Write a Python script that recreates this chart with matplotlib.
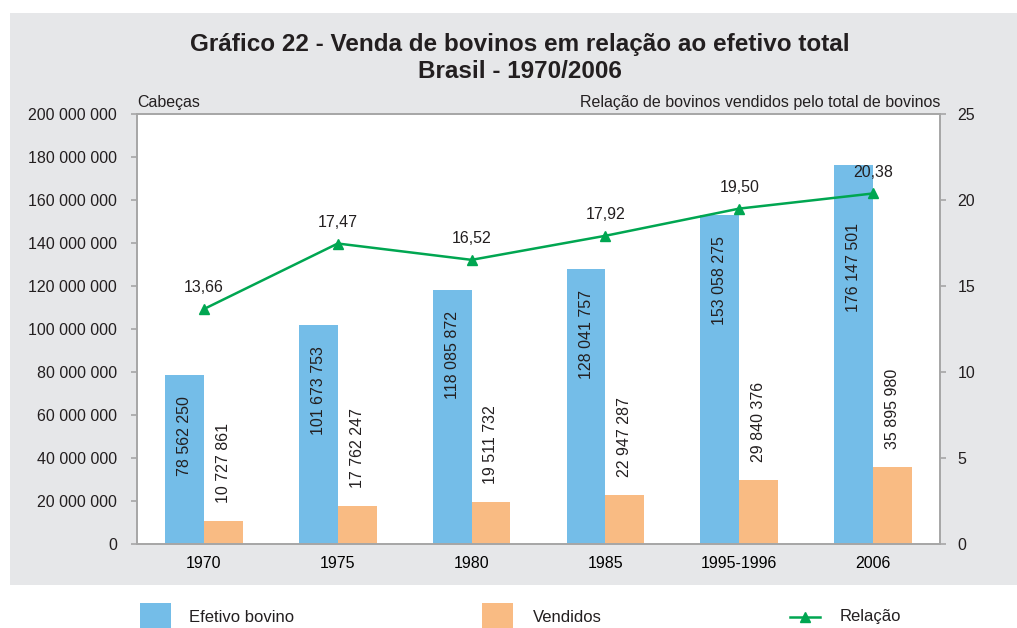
import matplotlib
matplotlib.use('Agg')
import matplotlib.pyplot as plt
import numpy as np
from matplotlib.patches import Rectangle
from matplotlib.lines import Line2D

# dados do grafico
anos = ['1970', '1975', '1980', '1985', '1995-1996', '2006']
efetivo = [78562250, 101673753, 118085872, 128041757, 153058275, 176147501]
vendidos = [10727861, 17762247, 19511732, 22947287, 29840376, 35895980]
relacao = [13.66, 17.47, 16.52, 17.92, 19.50, 20.38]

azul = '#74bde8'
laranja = '#f9bb83'
verde = '#00a651'
cinza = '#e6e7e9'
eixo = '#a6a6a6'

narrow = ['Liberation Sans Narrow', 'Liberation Sans', 'DejaVu Sans']
plt.rcParams['font.family'] = ['Liberation Sans', 'DejaVu Sans']
plt.rcParams['text.color'] = '#231f20'

YMAX = 200000000
RMAX = 25


def milhar(v):
    return f'{int(v):,}'.replace(',', ' ')


fig = plt.figure(figsize=(10.17, 6.28), dpi=100)
fig.patches.append(Rectangle((10 / 1017, 1 - 585 / 628), 1, (585 - 13) / 628,
                             transform=fig.transFigure, facecolor=cinza,
                             edgecolor='none', zorder=0))

ax = fig.add_axes([137 / 1017, 1 - 544 / 628, 803 / 1017, 430 / 628])
ax2 = ax.twinx()

x = np.arange(len(anos))
w = 0.29
ax.bar(x - w / 2, efetivo, w, color=azul, zorder=2)
ax.bar(x + w / 2, vendidos, w, color=laranja, zorder=2)

for xi, v, r in zip(x, efetivo, relacao):
    r_esc = r / RMAX * YMAX
    if r_esc < v:
        # linha passa por cima da barra: rotulo desce abaixo do ponto
        ax.annotate(milhar(v), (xi - w / 2, r_esc), xytext=(0, -21.5), textcoords='offset points',
                    rotation=90, ha='center', va='top', fontsize=11.5)
    else:
        ax.annotate(milhar(v), (xi - w / 2, v), xytext=(0, -15), textcoords='offset points',
                    rotation=90, ha='center', va='top', fontsize=11.5)
for xi, v in zip(x, vendidos):
    ax.annotate(milhar(v), (xi + w / 2, v), xytext=(0, 13), textcoords='offset points',
                rotation=90, ha='center', va='bottom', fontsize=11.5)

ax2.plot(x, relacao, color=verde, lw=1.8, marker='^', ms=7, zorder=3)
for xi, v in zip(x, relacao):
    ax2.annotate(f'{v:.2f}'.replace('.', ','), (xi, v), xytext=(0, 10),
                 textcoords='offset points', ha='center', va='bottom', fontsize=11.5)

ax.set_xlim(-0.5, len(anos) - 0.5)
ax.set_ylim(0, YMAX)
ax.set_yticks(np.arange(0, YMAX + 1, 20000000))
ax.set_yticklabels([milhar(t) for t in ax.get_yticks()])
ax2.set_ylim(0, RMAX)
ax2.set_yticks(np.arange(0, RMAX + 1, 5))
ax.set_xticks(x)
ax.set_xticklabels(anos)

for a in (ax, ax2):
    for s in a.spines.values():
        s.set_color(eixo)
        s.set_linewidth(1.2)
    a.tick_params(axis='y', colors=eixo, labelcolor='#231f20', length=4.5,
                  width=1.2, labelsize=11.5)
ax.tick_params(axis='y', pad=10)
ax2.tick_params(axis='y', pad=8)
ax.tick_params(axis='x', length=0, labelsize=11.5, pad=9)
ax.set_facecolor('white')
ax.set_zorder(1)
ax2.set_zorder(2)
ax2.patch.set_visible(False)

# titulo
fig.text(520 / 1017, 1 - 45 / 628, 'Gráfico 22 - Venda de bovinos em relação ao efetivo total',
         ha='center', va='center', fontsize=17.5, fontweight='bold', family=narrow)
fig.text(520 / 1017, 1 - 72 / 628, 'Brasil - 1970/2006',
         ha='center', va='center', fontsize=17.5, fontweight='bold', family=narrow)
fig.text(137 / 1017, 1 - 103 / 628, 'Cabeças', ha='left', va='center',
         fontsize=11.5, family=narrow)
fig.text(940 / 1017, 1 - 103 / 628, 'Relação de bovinos vendidos pelo total de bovinos',
         ha='right', va='center', fontsize=11.5, family=narrow)

# legenda
fig.patches.append(Rectangle((140 / 1017, 0), 31 / 1017, 25 / 628,
                             transform=fig.transFigure, facecolor=azul, edgecolor='none'))
fig.text(189 / 1017, 1 - 617 / 628, 'Efetivo bovino', va='center', fontsize=12, family=narrow)
fig.patches.append(Rectangle((482 / 1017, 0), 31 / 1017, 25 / 628,
                             transform=fig.transFigure, facecolor=laranja, edgecolor='none'))
fig.text(533 / 1017, 1 - 617 / 628, 'Vendidos', va='center', fontsize=12, family=narrow)
yl = 1 - 617 / 628
fig.lines.append(Line2D([790 / 1017, 805 / 1017, 820 / 1017], [yl, yl, yl],
                        transform=fig.transFigure, color=verde, lw=1.8,
                        marker='^', ms=7, markevery=[1]))
fig.text(840 / 1017, yl, 'Relação', va='center', fontsize=12, family=narrow)

fig.savefig('out.png', dpi=100)
